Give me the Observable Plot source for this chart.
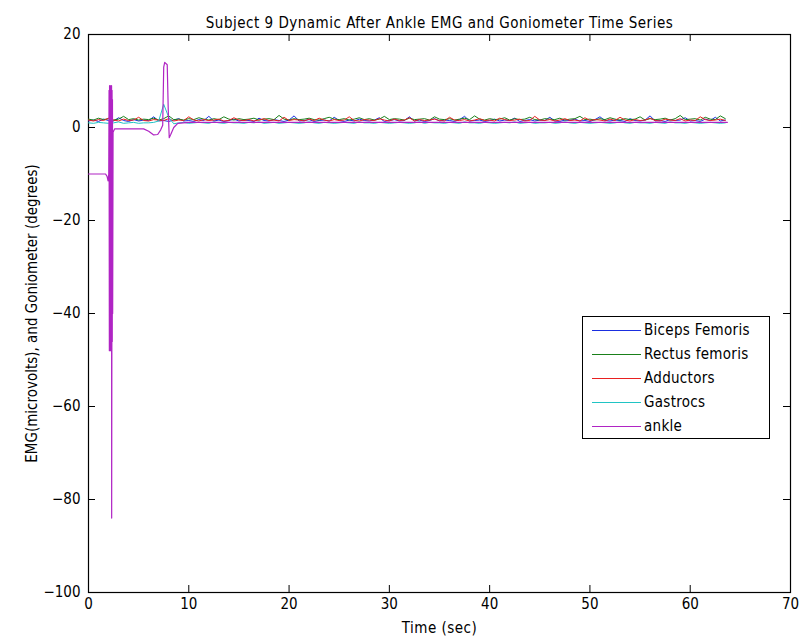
<!DOCTYPE html>
<html>
<head>
<meta charset="utf-8">
<script src="https://cdn.jsdelivr.net/npm/d3@7"></script>
<script src="https://cdn.jsdelivr.net/npm/@observablehq/plot@0.6"></script>
<style>
  html, body { margin: 0; padding: 0; background: #fff; }
  #wrap { position: relative; width: 811px; height: 643px; overflow: hidden; }
  .lg { position: absolute; left: 582px; top: 316px; width: 186px; height: 121px; border: 1px solid #000; background: #fff;
        font-family: "Liberation Sans Narrow", "DejaVu Sans Condensed", sans-serif; font-size: 15px; letter-spacing: 0.3px; }
  .row { position: absolute; left: 0; height: 20px; display: flex; align-items: center; }
  .sw { width: 49px; height: 0; border-top: 1.5px solid; margin-left: 9px; margin-right: 3px; }
</style>
</head>
<body>
<div id="wrap"></div>
<script>
const title = "Subject 9 Dynamic After Ankle EMG and Goniometer Time Series";
const xLabel = "Time (sec)";
const yLabel = "EMG(microvolts), and Goniometer (degrees)";
const xTicks = [0, 10, 20, 30, 40, 50, 60, 70];
const yTicks = [20, 0, -20, -40, -60, -80, -100];

const seriesNames = ["Biceps Femoris", "Rectus femoris", "Adductors", "Gastrocs", "ankle"];
const seriesColors = ["#1a2ee0", "#1a801a", "#e82020", "#20c4c4", "#b024c4"];

// EMG sampled every 0.5 s from 0 to 63.5 s
const emgTime = d3.range(0, 64, 0.5);
const biceps = [
1.4,1.6,1.3,1.8,1.5,1.4,2.1,1.5,1.3,1.7,1.4,1.6,1.5,2.3,1.4,1.5,1.3,1.6,1.9,1.4,
1.5,1.3,1.7,1.5,2.4,1.4,1.6,1.3,1.5,1.8,1.4,1.6,1.5,1.3,2.0,1.5,1.4,1.7,1.5,1.3,
1.6,2.5,1.4,1.5,1.7,1.3,1.5,1.6,1.4,2.2,1.5,1.3,1.6,1.4,1.8,1.5,1.4,1.6,2.1,1.3,
1.5,1.7,1.4,1.5,2.3,1.4,1.6,1.3,1.5,1.9,1.4,1.6,1.5,1.3,1.7,2.4,1.4,1.5,1.6,1.3,
1.5,1.8,1.4,1.6,1.5,2.0,1.3,1.5,1.7,1.4,1.6,1.5,2.2,1.4,1.3,1.6,1.5,1.8,1.4,1.5,
1.3,1.7,2.3,1.5,1.4,1.6,1.5,1.3,1.9,1.5,1.4,1.6,2.5,1.4,1.5,1.3,1.7,1.5,1.6,2.1,
1.4,1.5,1.3,1.8,1.5,2.2,1.4,1.6];
const rectus = [
1.8,1.6,2.0,1.7,1.9,1.6,1.8,2.4,1.7,1.9,1.6,1.8,1.7,2.0,1.6,1.9,2.5,1.7,1.8,1.6,
1.9,1.7,2.1,1.8,1.6,1.9,1.7,2.3,1.8,1.6,1.9,1.7,1.8,2.0,1.6,1.8,1.9,1.7,2.6,1.8,
1.6,1.9,1.7,1.8,2.0,1.7,1.6,1.9,2.2,1.8,1.7,1.9,1.6,1.8,2.1,1.7,1.9,1.6,1.8,2.4,
1.7,1.9,1.8,1.6,2.0,1.7,1.8,1.9,1.6,2.3,1.8,1.7,1.9,1.6,1.8,2.0,1.7,2.5,1.8,1.6,
1.9,1.7,1.8,2.1,1.6,1.9,1.7,1.8,2.2,1.7,1.6,1.9,1.8,1.7,2.0,1.6,1.8,1.9,2.4,1.7,
1.8,1.6,1.9,1.7,2.1,1.8,1.6,1.9,1.7,1.8,2.3,1.6,1.9,1.7,1.8,2.0,1.6,1.9,2.6,1.7,
1.8,1.9,1.6,2.2,1.8,1.7,2.5,1.9];
const adductors = [
1.6,1.4,1.7,1.5,2.0,1.6,1.4,1.8,1.5,1.6,2.2,1.5,1.4,1.7,1.6,1.5,1.9,1.4,1.6,1.5,
2.3,1.6,1.4,1.7,1.5,1.6,1.8,1.4,1.5,2.1,1.6,1.5,1.7,1.4,1.6,1.9,1.5,1.6,1.4,2.2,
1.5,1.7,1.6,1.4,1.8,1.5,2.0,1.6,1.4,1.7,1.5,1.6,2.3,1.5,1.4,1.7,1.6,1.5,1.9,1.6,
1.4,1.8,1.5,1.6,2.1,1.4,1.7,1.5,1.6,1.8,1.5,1.4,2.2,1.6,1.5,1.7,1.4,1.6,1.9,1.5,
1.6,1.4,2.0,1.7,1.5,1.6,1.8,1.4,1.5,2.4,1.6,1.5,1.7,1.4,1.6,1.9,1.5,1.6,1.4,2.1,
1.5,1.7,1.6,1.4,1.8,1.5,2.2,1.6,1.4,1.7,1.5,1.6,2.0,1.5,1.4,1.8,1.6,1.5,1.9,1.4,
1.6,1.5,2.3,1.7,1.5,1.6,1.8,1.5];
const gastrocs = [
1.0,0.9,1.1,1.0,0.9,1.0,1.2,0.9,1.0,1.1,0.9,1.0,1.0,1.1,1.4,5.0,2.2,0.8,1.0,1.1,
0.9,1.0,1.1,1.0,0.9,1.2,1.0,0.9,1.1,1.0,1.0,0.9,1.1,1.0,1.2,0.9,1.0,1.1,0.9,1.0,
1.1,1.0,0.9,1.0,1.2,1.0,0.9,1.1,1.0,0.9,1.0,1.1,1.0,0.9,1.2,1.0,1.0,0.9,1.1,1.0,
0.9,1.0,1.1,1.0,0.9,1.0,1.2,0.9,1.1,1.0,1.0,0.9,1.1,1.0,0.9,1.2,1.0,1.0,0.9,1.1,
1.0,0.9,1.0,1.1,1.0,1.2,0.9,1.0,1.1,0.9,1.0,1.0,1.1,0.9,1.0,1.2,1.0,0.9,1.1,1.0,
0.9,1.0,1.1,1.0,0.9,1.0,1.2,1.0,0.9,1.1,1.0,1.0,0.9,1.1,1.0,0.9,1.2,1.0,1.0,0.9,
1.1,1.0,0.9,1.0,1.1,1.0,0.9,1.0];

// ankle goniometer (irregular time points)
const ankleTime = [0, 1.7, 1.85, 1.95, 2.02, 2.05, 2.08, 2.1, 2.12, 2.14, 2.16, 2.18, 2.2, 2.22, 2.24, 2.26, 2.28, 2.3, 2.31, 2.33, 2.35, 2.37, 2.39, 2.41, 2.45, 2.6, 3.0, 5.5, 6.0, 6.5, 6.9, 7.2, 7.4, 7.5, 7.6, 7.85, 7.95, 8.05, 8.2, 8.5, 8.9, 10, 63.7];
const ankleValue = [-10, -10, -10.5, -11.5, -10, 8, -48, 9, -47, 8, -48, 9, -46, 8, -48, 7, -47, 9, -84, -47, 8, -46, 6, -40, -1, -0.3, -0.3, -0.3, -0.8, -1.6, -1.5, -0.5, 0.5, 13, 14, 13.5, 4, -2.2, -1.5, 0, 0.9, 1.1, 1.1];

const emgSeries = [biceps, rectus, adductors, gastrocs];
const emgRows = emgSeries.flatMap((vals, k) => vals.map((v, i) => ({t: emgTime[i], v, s: seriesNames[k]})));
const ankleRows = ankleTime.map((t, i) => ({t, v: ankleValue[i], s: "ankle"}));

const font = '"Liberation Sans Narrow", "DejaVu Sans Condensed", sans-serif';
const W = 811, H = 643, mL = 88, mR = 21, mT = 34, mB = 51;
const plotW = W - mL - mR, plotH = H - mT - mB;

const chart = Plot.plot({
  width: W, height: H,
  marginLeft: mL, marginRight: mR, marginTop: mT, marginBottom: mB,
  style: {fontFamily: font, fontSize: "15px", background: "#fff", color: "#000"},
  x: {domain: [0, 70]},
  y: {domain: [-100, 20]},
  color: {domain: seriesNames, range: seriesColors},
  marks: [
    Plot.frame({stroke: "#000", strokeWidth: 1.2}),
    Plot.line(emgRows, {x: "t", y: "v", z: "s", stroke: "s", strokeWidth: 1}),
    Plot.line(ankleRows, {x: "t", y: "v", stroke: "s", strokeWidth: 1.2}),
    Plot.tickX(xTicks, {x: d => d, insetTop: plotH - 7, stroke: "#000"}),
    Plot.tickX(xTicks, {x: d => d, insetBottom: plotH - 7, stroke: "#000"}),
    Plot.tickY(yTicks, {y: d => d, insetRight: plotW - 7, stroke: "#000"}),
    Plot.tickY(yTicks, {y: d => d, insetLeft: plotW - 7, stroke: "#000"}),
    Plot.axisX({ticks: xTicks, tickSize: 0, tickPadding: 6, label: null}),
    Plot.axisY({ticks: yTicks, tickSize: 0, tickPadding: 8, label: null}),
    Plot.text([title], {text: d => d, frameAnchor: "top", dy: -17, fontSize: 15, style: "letter-spacing:0.5px"}),
    Plot.text([xLabel], {text: d => d, frameAnchor: "bottom", dy: 40, fontSize: 15}),
    Plot.text([yLabel], {text: d => d, frameAnchor: "left", dx: -56, rotate: -90, textAnchor: "middle", fontSize: 15})
  ]
});
const wrap = document.getElementById("wrap");
wrap.appendChild(chart);
chart.querySelectorAll("text").forEach(t => { if (t.textContent === title || t.textContent === xLabel) t.setAttribute("letter-spacing", "0.5"); });

const lg = document.createElement("div");
lg.className = "lg";
seriesNames.forEach((name, i) => {
  const row = document.createElement("div");
  row.className = "row";
  row.style.top = (3 + i * 24) + "px";
  const sw = document.createElement("span");
  sw.className = "sw";
  sw.style.borderTopColor = seriesColors[i];
  const tx = document.createElement("span");
  tx.textContent = name;
  row.appendChild(sw);
  row.appendChild(tx);
  lg.appendChild(row);
});
wrap.appendChild(lg);
</script>
</body>
</html>
